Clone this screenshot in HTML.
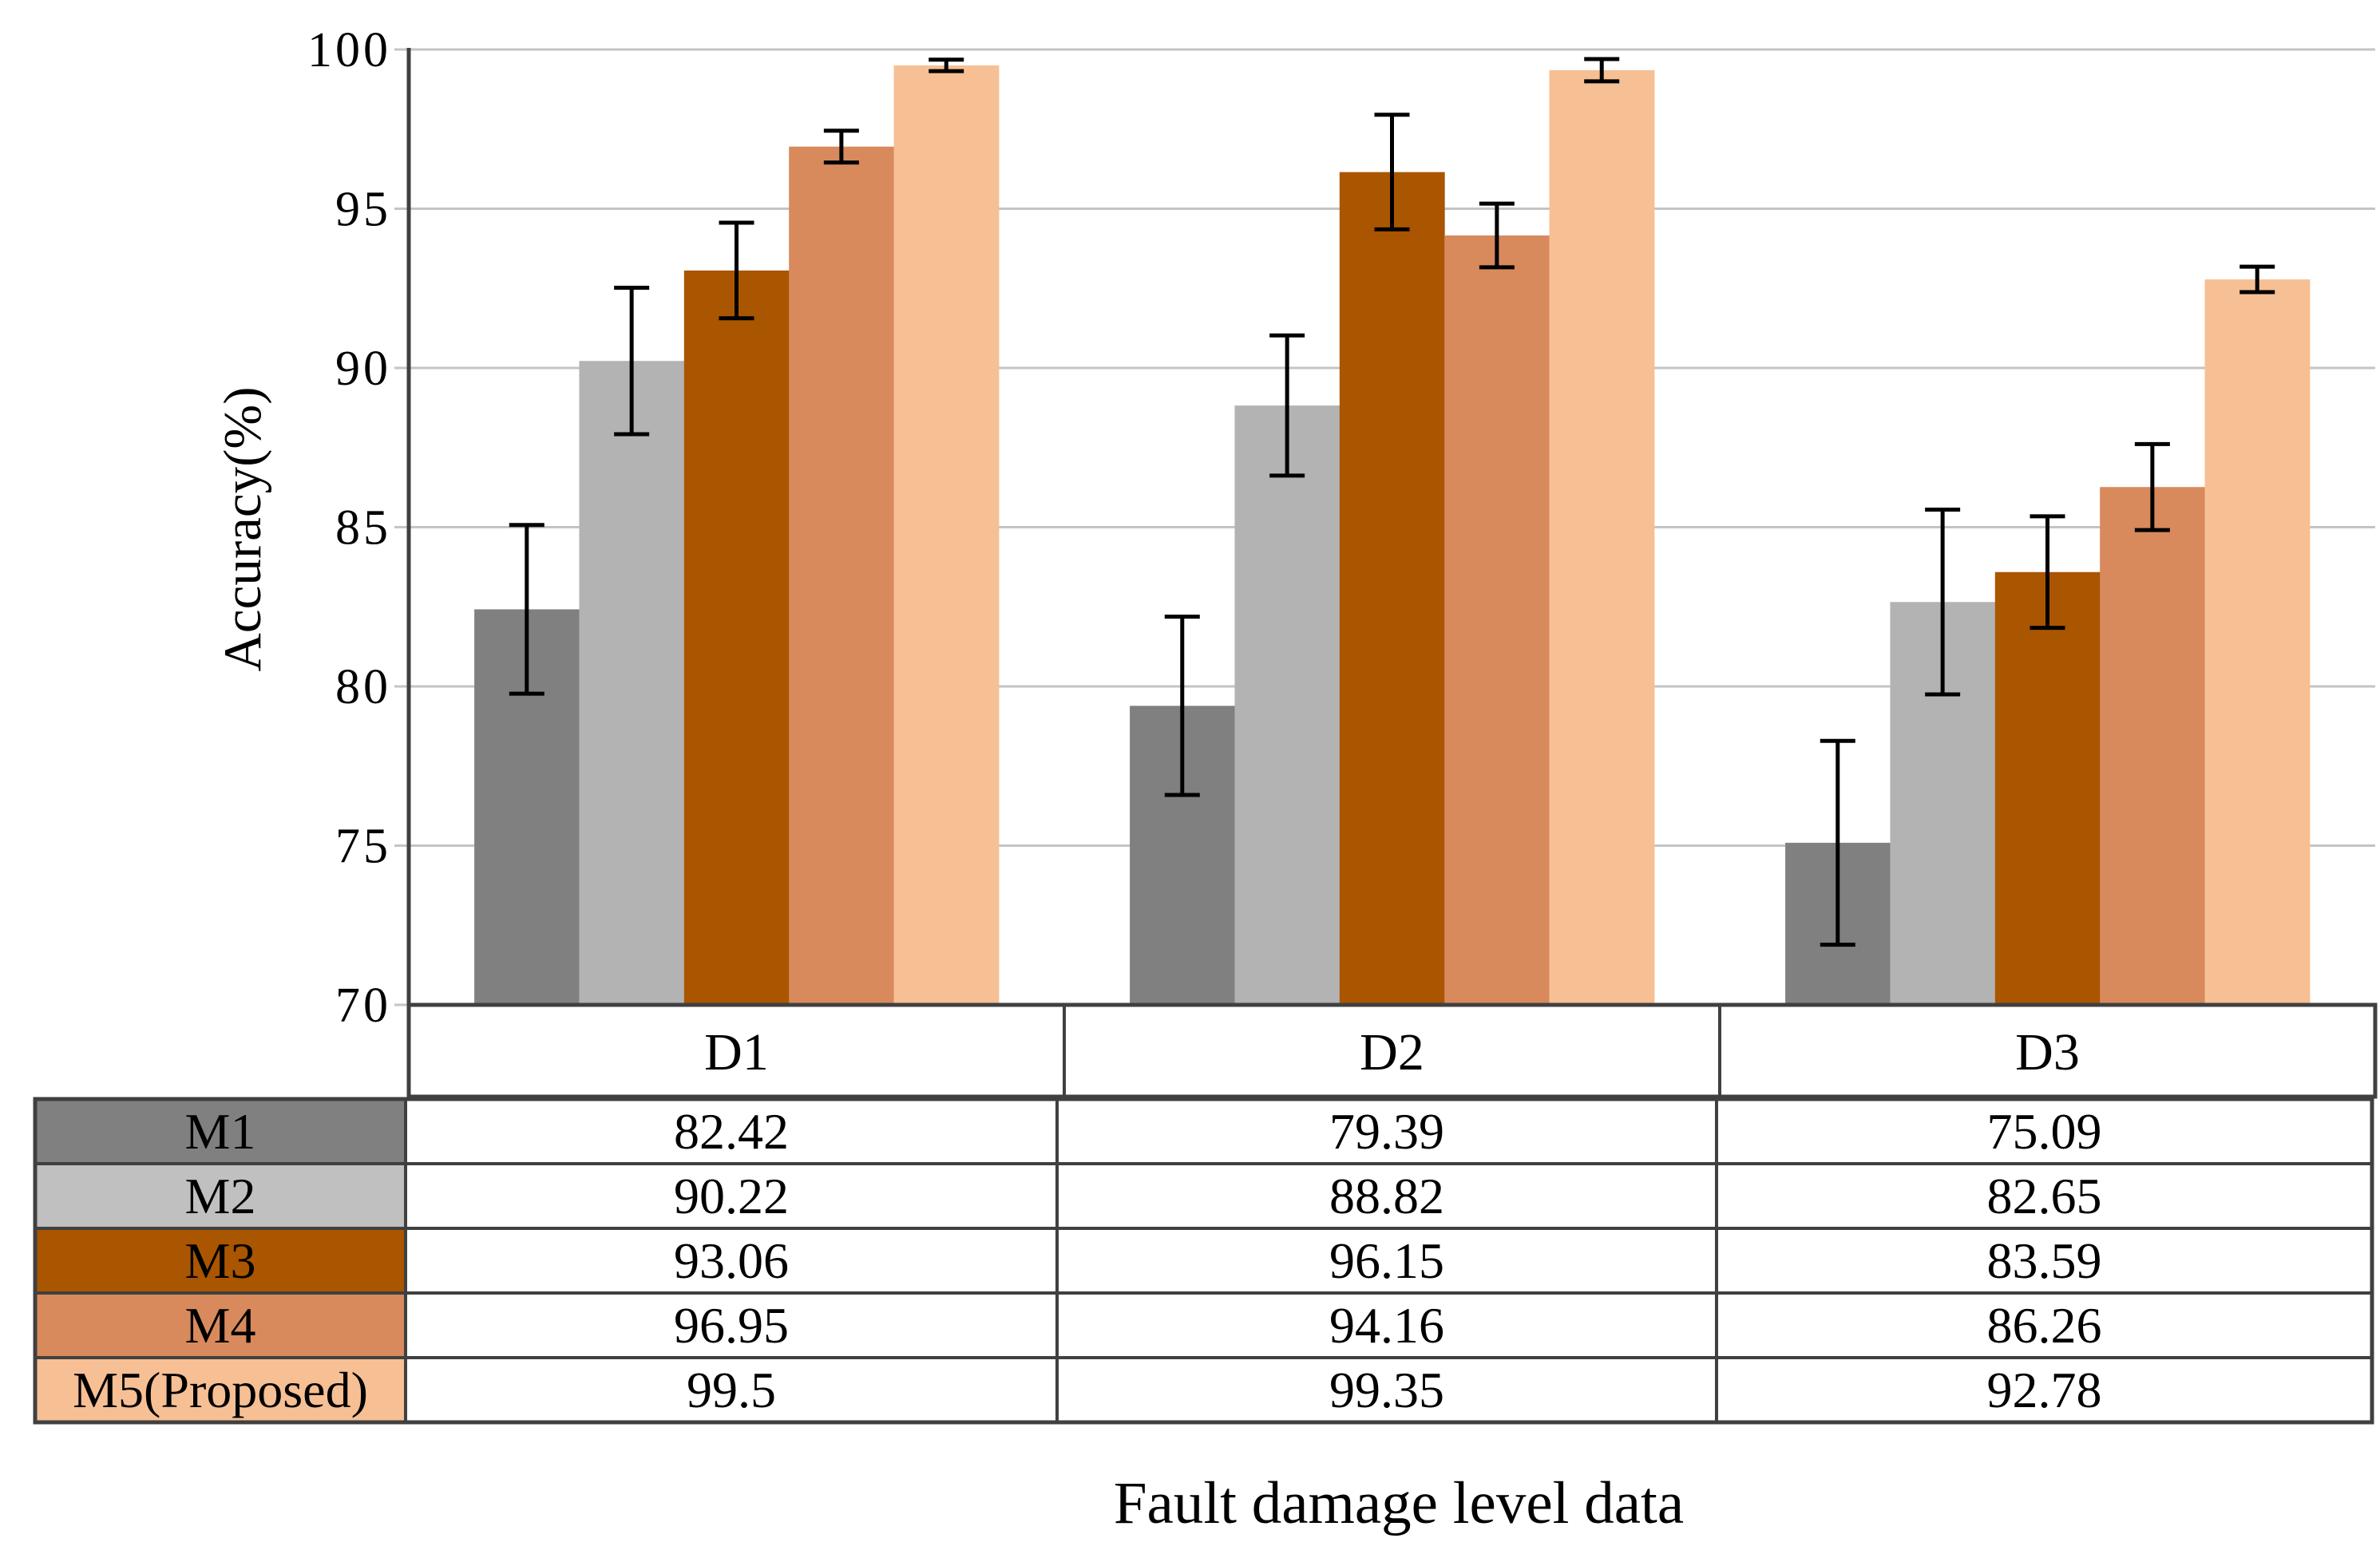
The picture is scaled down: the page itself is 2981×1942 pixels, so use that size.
<!DOCTYPE html>
<html><head><meta charset="utf-8"><style>
html,body{margin:0;padding:0;background:#fff;}
svg{display:block;font-family:"Liberation Serif",serif;}
</style></head><body>
<svg id="chart" width="2981" height="1942" viewBox="0 0 2981 1942" xmlns="http://www.w3.org/2000/svg">
<g id="grid"></g>
<g id="bars"></g>
<g id="errs"></g>
<g id="axes"></g>
<g id="table"></g>
<text transform="translate(326,663) rotate(-90)" text-anchor="middle" font-size="67">Accuracy(%)</text>
<text x="1752" y="1908" text-anchor="middle" font-size="75">Fault damage level data</text>
</svg>
<script>
const categories = ["D1","D2","D3"];
const seriesNames = ["M1","M2","M3","M4","M5(Proposed)"];
const M1 = [82.42, 79.39, 75.09];
const M2 = [90.22, 88.82, 82.65];
const M3 = [93.06, 96.15, 83.59];
const M4 = [96.95, 94.16, 86.26];
const M5 = [99.5, 99.35, 92.78];
const E1 = [2.65, 2.8, 3.2];
const E2 = [2.3, 2.2, 2.9];
const E3 = [1.5, 1.8, 1.75];
const E4 = [0.5, 1.0, 1.35];
const E5 = [0.18, 0.35, 0.4];
const yTicks = [70, 75, 80, 85, 90, 95, 100];
const series = [M1, M2, M3, M4, M5];
const errors = [E1, E2, E3, E4, E5];
const colors = ["#808080", "#b3b3b3", "#aa5500", "#d88a5c", "#f7bf94"];
const swatch = ["#808080", "#c0c0c0", "#aa5500", "#d88a5c", "#f7bf94"];

const NS = "http://www.w3.org/2000/svg";
const X0 = 512, X1 = 2975, Y100 = 62, Y70 = 1259;
const yMin = 70, yMax = 100;
const y = v => Y70 - (v - yMin) / (yMax - yMin) * (Y70 - Y100);
const catW = (X1 - X0) / categories.length;
const barW = catW * 0.8 / series.length;
const xBar = (c, s) => X0 + c * catW + catW * 0.1 + s * barW;
function mk(tag, attrs, parent) {
  const e = document.createElementNS(NS, tag);
  for (const k in attrs) e.setAttribute(k, attrs[k]);
  parent.appendChild(e);
  return e;
}
const grid = document.getElementById("grid"), bars = document.getElementById("bars"),
  errs = document.getElementById("errs"), axes = document.getElementById("axes"),
  table = document.getElementById("table");

yTicks.forEach(t => {
  const l = mk("line", {x1: X0 - 18, x2: X1, y1: y(t), y2: y(t), stroke: "#c4c4c4", "stroke-width": 3}, grid);
  
  
  const tx = mk("text", {x: X0 - 22, y: y(t) + 21, "text-anchor": "end", "font-size": 62, "letter-spacing": 4}, axes);
  tx.textContent = t;
  
  
});

series.forEach((vals, s) => {
  vals.forEach((v, c) => {
    const r = mk("rect", {x: xBar(c, s), y: y(v), width: barW + 0.5, height: Y70 - y(v), fill: colors[s]}, bars);
    
    
    const cx = xBar(c, s) + barW / 2, e = errors[s][c];
    const g = mk("g", {stroke: "#000", "stroke-width": 5}, errs);
    
    
    mk("line", {x1: cx, x2: cx, y1: y(v + e), y2: y(v - e)}, g);
    mk("line", {x1: cx - 22, x2: cx + 22, y1: y(v + e), y2: y(v + e)}, g);
    mk("line", {x1: cx - 22, x2: cx + 22, y1: y(v - e), y2: y(v - e)}, g);
  });
});

const ya = mk("line", {x1: X0, x2: X0, y1: Y100 - 2, y2: 1376, stroke: "#404040", "stroke-width": 5}, axes);



const hTop = Y70, hBot = 1374;
mk("rect", {x: X0, y: hTop, width: X1 - X0, height: hBot - hTop, fill: "none", stroke: "#404040", "stroke-width": 5}, table);
categories.forEach((c, i) => {
  if (i > 0) mk("line", {x1: X0 + i * catW, x2: X0 + i * catW, y1: hTop, y2: hBot, stroke: "#404040", "stroke-width": 4}, table);
  const t = mk("text", {x: X0 + (i + 0.5) * catW, y: 1340, "text-anchor": "middle", "font-size": 66}, table);
  t.textContent = c;
  
  
});

const tL = 44, tLab = 508, tR = 2971, rowTop = 1377, rowH = 81;
const cols = [tLab, 1324, 2150, tR];
series.forEach((vals, s) => {
  const ry = rowTop + s * rowH;
  const sw = mk("rect", {x: tL, y: ry, width: tLab - tL, height: rowH, fill: swatch[s], stroke: "#404040", "stroke-width": 4}, table);
  
  
  const lt = mk("text", {x: (tL + tLab) / 2, y: ry + 62, "text-anchor": "middle", "font-size": 64}, table);
  lt.textContent = seriesNames[s];
  
  
  vals.forEach((v, c) => {
    mk("rect", {x: cols[c], y: ry, width: cols[c + 1] - cols[c], height: rowH, fill: "#fff", stroke: "#404040", "stroke-width": 4}, table);
    const vt = mk("text", {x: (cols[c] + cols[c + 1]) / 2, y: ry + 62, "text-anchor": "middle", "font-size": 64}, table);
    vt.textContent = v;
    
    
  });
});
const ob = mk("rect", {x: tL, y: rowTop, width: tR - tL, height: rowH * 5, fill: "none", stroke: "#404040", "stroke-width": 5}, table);


</script>
</body></html>
